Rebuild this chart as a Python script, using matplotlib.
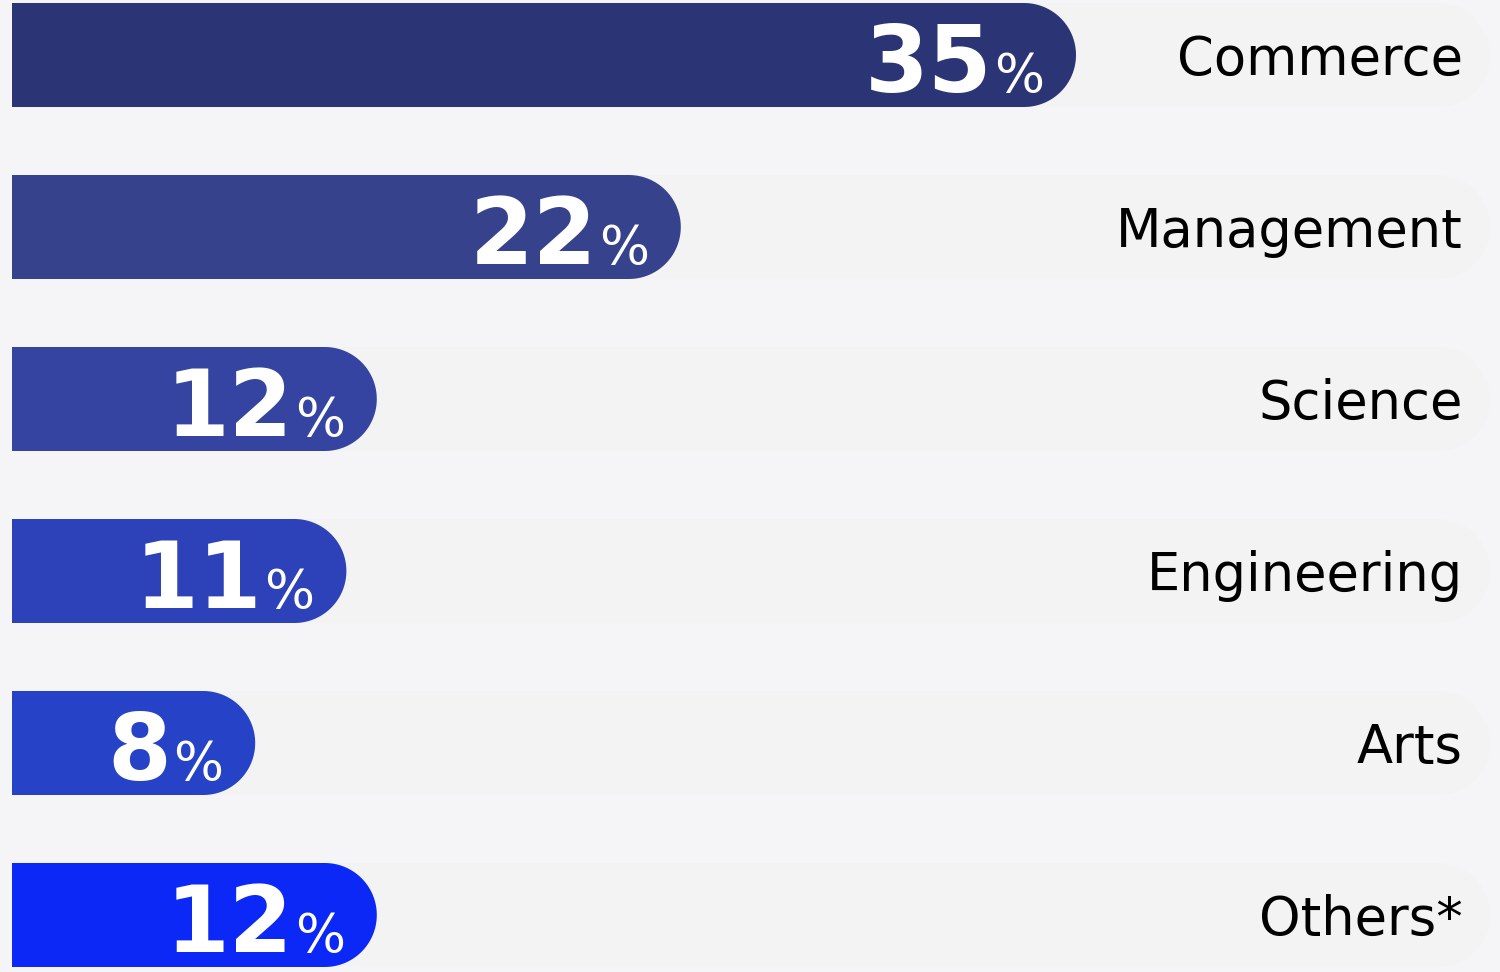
import numpy as np
import matplotlib
matplotlib.use("Agg")
import matplotlib.pyplot as plt
from matplotlib.patches import Polygon
from matplotlib.transforms import offset_copy

# data
categories = ["Commerce", "Management", "Science", "Engineering", "Arts", "Others*"]
shares = [35, 22, 12, 11, 8, 12]
bar_colors = ["#2b3575", "#37428c", "#3444a0", "#2d42b8", "#2642c6", "#0b28f7"]

# layout in pixels (figure is 1500 x 972 at dpi 100)
W, H = 1500, 972
x0_px = 12          # where bars start
px_per_pct = 30.4   # horizontal scale
row_top_px = 55     # centre of first row
row_step_px = 172   # distance between rows
bar_h_px = 104
track_end_px = 1490

fig = plt.figure(figsize=(W / 100, H / 100), dpi=100)
fig.patch.set_facecolor("#f5f5f7")
ax = fig.add_axes([0, 0, 1, 1])
ax.set_facecolor("#f5f5f7")
ax.set_xlim(-x0_px / px_per_pct, (W - x0_px) / px_per_pct)
ax.set_ylim((H - row_top_px) / row_step_px, -row_top_px / row_step_px)
ax.axis("off")

half = bar_h_px / 2 / row_step_px     # half bar height, y units
rx = (bar_h_px / 2) / px_per_pct      # end radius, x units


def pill(x_end, yc, color, z):
    """bar with square left edge and round right end"""
    t = np.linspace(-np.pi / 2, np.pi / 2, 60)
    cx = x_end - rx
    arc = np.column_stack([cx + rx * np.cos(t), yc + half * np.sin(t)])
    pts = np.vstack([[0, yc - half], arc, [0, yc + half]])
    ax.add_patch(Polygon(pts, closed=True, facecolor=color, edgecolor="none", zorder=z))


track_end = (track_end_px - x0_px) / px_per_pct
num_font = dict(family="DejaVu Sans", fontweight="bold", color="white")

for i, (cat, val, col) in enumerate(zip(categories, shares, bar_colors)):
    pill(track_end, i, "#f3f3f3", 1)
    pill(val, i, col, 2)

    base_y = i + 37 / row_step_px
    pct_t = ax.text(val, base_y, "%", ha="right", va="baseline", fontsize=38,
                    color="white", family="DejaVu Sans", zorder=3,
                    transform=offset_copy(ax.transData, fig=fig, x=-32, y=0, units="dots"))
    ax.annotate(str(val), xy=(0, base_y), xycoords=(pct_t, "data"),
                xytext=(-2, 0), textcoords="offset pixels",
                ha="right", va="baseline", fontsize=66, zorder=3, **num_font)

    ax.text(1463 / W, i + 20 / row_step_px, cat, ha="right", va="baseline",
            fontsize=38, color="#000000", family="DejaVu Sans",
            transform=ax.get_yaxis_transform(), zorder=3)

fig.savefig("out.png", dpi=100, facecolor=fig.get_facecolor())
